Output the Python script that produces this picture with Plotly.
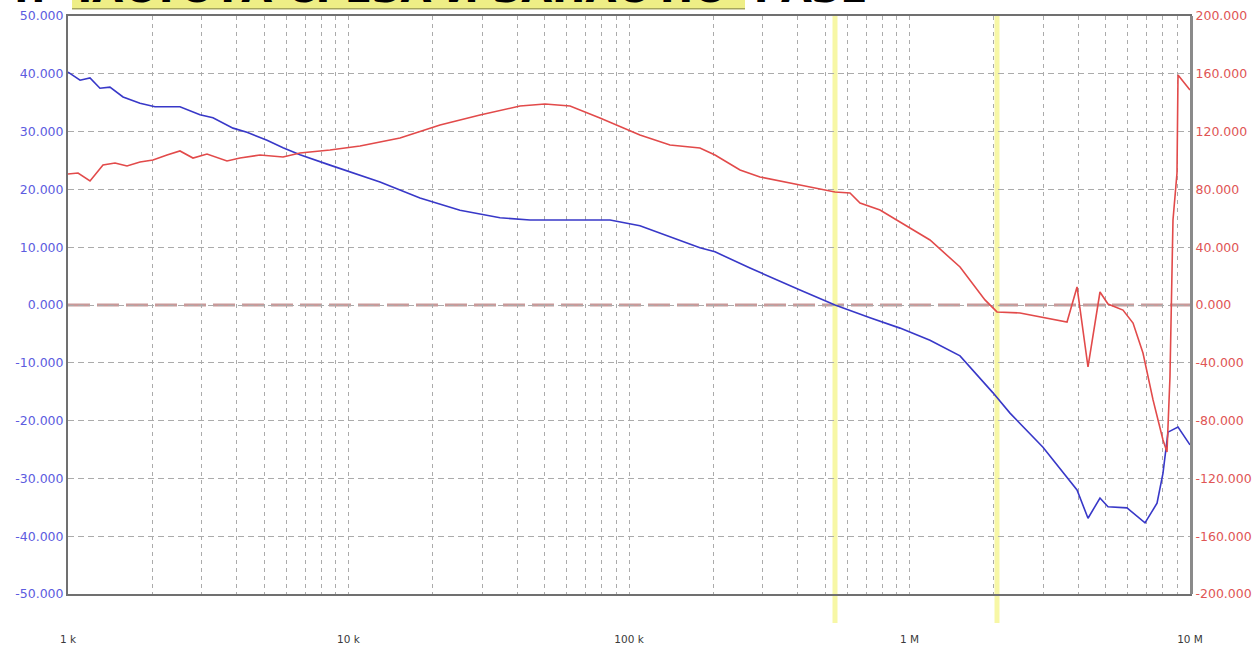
import plotly.graph_objects as go

# Gain curve (left axis, dB) vs frequency (Hz)
gain_freq = [1000, 1104, 1198, 1300, 1411, 1571, 1806, 2042, 2507, 2955, 3287, 3875,
             4346, 5123, 5842, 6716, 8590, 10120, 12950, 17980, 24970, 34680, 44370,
             66890, 85600, 109400, 152000, 179000, 202600, 270000, 407000, 542500,
             723000, 925000, 1183000, 1514000, 1985000, 2282000, 2991000, 3956000,
             4329000, 4776000, 5101000, 5962000, 6912000, 7628000, 8012000, 8348000,
             9063000, 10000000]
gain_db = [40.3, 38.9, 39.3, 37.5, 37.7, 36.0, 34.9, 34.3, 34.3, 32.9, 32.4, 30.6,
           29.9, 28.5, 27.2, 26.0, 24.2, 23.0, 21.3, 18.5, 16.4, 15.1, 14.7,
           14.7, 14.7, 13.7, 11.2, 9.9, 9.2, 6.4, 2.6, 0.0,
           -2.2, -4.0, -6.1, -8.8, -15.2, -18.7, -24.6, -32.0,
           -36.9, -33.4, -34.9, -35.1, -37.7, -34.3, -29.1, -22.0,
           -21.1, -24.2]

# Phase curve (right axis, degrees) vs frequency (Hz)
phase_freq = [1000, 1086, 1198, 1333, 1471, 1623, 1806, 2009, 2254, 2507, 2790, 3130,
              3688, 4104, 4836, 5842, 6716, 8590, 10990, 15260, 21200, 29430, 40870,
              50180, 61630, 78800, 109400, 140000, 179000, 202600, 248800, 293000,
              407000, 542500, 613700, 666300, 785000, 925000, 1183000, 1514000,
              1858000, 2051000, 2477000, 3644000, 3956000, 4329000, 4776000, 5101000,
              5769000, 6265000, 6798000, 7383000, 8012000, 8279000, 8484000, 8697000,
              8988000, 9063000, 10000000]
phase_deg = [90.7, 91.3, 85.8, 96.9, 98.3, 96.2, 99.0, 100.3, 103.8, 106.6, 101.7, 104.5,
             99.7, 101.7, 103.8, 102.4, 105.2, 107.3, 110.0, 115.6, 124.6, 131.5, 137.7,
             139.1, 137.7, 129.4, 117.6, 110.7, 108.7, 103.8, 93.4, 88.6,
             83.0, 78.2, 77.5, 70.6, 65.7, 57.4, 45.0, 26.3,
             3.5, -4.8, -5.5, -11.8, 12.5, -42.9, 9.0, 0.7,
             -3.5, -12.5, -33.2, -65.7, -93.4, -101.7, -49.8, 58.8,
             91.3, 159.2, 148.8]

# Cursor markers (Hz)
cursor_freqs = [542500, 2051000]

# Axis ticks
x_tick_vals = [1e3, 1e4, 1e5, 1e6, 1e7]
x_tick_text = ["1 k", "10 k", "100 k", "1 M", "10 M"]
gain_ticks = [-50, -40, -30, -20, -10, 0, 10, 20, 30, 40, 50]
phase_ticks = [-200, -160, -120, -80, -40, 0, 40, 80, 120, 160, 200]

heading = "4. ЧАСТОТА СРЕЗА И ЗАПАС ПО ФАЗЕ"

GRID = "#ababab"
FRAME = "#707070"
LABEL_FONT = "DejaVu Sans, Verdana, sans-serif"
minor_x = [k * 10 ** e for e in range(3, 7) for k in range(2, 10)]

fig = go.Figure()

fig.add_trace(go.Scatter(x=gain_freq, y=gain_db, mode="lines",
                         line=dict(color="#3838c8", width=1.6),
                         showlegend=False, yaxis="y"))
fig.add_trace(go.Scatter(x=phase_freq, y=phase_deg, mode="lines",
                         line=dict(color="#e24a4a", width=1.6),
                         showlegend=False, yaxis="y2"))

shapes = []
# 0 dB / 0 deg reference line
shapes.append(dict(type="line", xref="paper", x0=0, x1=1, yref="y", y0=0, y1=0,
                   line=dict(color="#c99a9a", width=3, dash="22px,7px"), layer="below"))
# Cursor lines
for f in cursor_freqs:
    shapes.append(dict(type="line", xref="x", x0=f, x1=f, yref="paper", y0=-0.05, y1=1,
                       line=dict(color="rgba(246,246,150,0.85)", width=5), layer="below"))
# Heading highlight band
shapes.append(dict(type="rect", xref="paper", x0=0.0036, x1=0.6034, yref="paper",
                   y0=1.0125, y1=1.04, fillcolor="#eeee86", line=dict(width=0),
                   layer="above"))
shapes.append(dict(type="line", xref="paper", x0=0.0036, x1=0.6034, yref="paper",
                   y0=1.0125, y1=1.0125, line=dict(color="#a5a55e", width=1.5),
                   layer="above"))

fig.update_layout(
    width=1255, height=649,
    margin=dict(l=68, r=65, t=16, b=55, pad=0, autoexpand=False),
    paper_bgcolor="white", plot_bgcolor="white",
    font=dict(family=LABEL_FONT, size=11),
    shapes=shapes,
    xaxis=dict(type="log", range=[3, 7], automargin=False,
               tickvals=x_tick_vals, ticktext=x_tick_text,
               ticks="", ticklabelstandoff=34,
               tickfont=dict(color="#3a3a3a", size=10.5, family=LABEL_FONT),
               showgrid=True, gridcolor=GRID, gridwidth=1, griddash="4px,4px",
               minor=dict(tickvals=minor_x, showgrid=True, gridcolor=GRID,
                          gridwidth=1, griddash="4px,4px", ticks=""),
               showline=True, linecolor=FRAME, linewidth=2, mirror=True,
               zeroline=False),
    yaxis=dict(range=[-50, 50], tickvals=gain_ticks, automargin=False,
               ticktext=[f"{v:.3f}" for v in gain_ticks],
               tickfont=dict(color="#5c5ce0", size=12.5, family=LABEL_FONT), ticks="",
               showgrid=True, gridcolor=GRID, gridwidth=1, griddash="6px,4px",
               showline=True, linecolor=FRAME, linewidth=2, mirror=True,
               zeroline=False),
    yaxis2=dict(range=[-200, 200], overlaying="y", side="right", automargin=False,
                tickvals=phase_ticks,
                ticktext=[f"{v:.3f}" for v in phase_ticks],
                tickfont=dict(color="#e05555", size=12.5, family=LABEL_FONT), ticks="",
                showgrid=False, zeroline=False,
                showline=True, linecolor="#8a8a8a", linewidth=3),
    annotations=[dict(text=f"<b>{heading}</b>", xref="paper", yref="paper",
                      x=-0.06, y=1.006, xanchor="left", yanchor="bottom",
                      showarrow=False,
                      font=dict(family="DejaVu Sans", size=40, color="black"))],
)

fig.write_html("out.html")
